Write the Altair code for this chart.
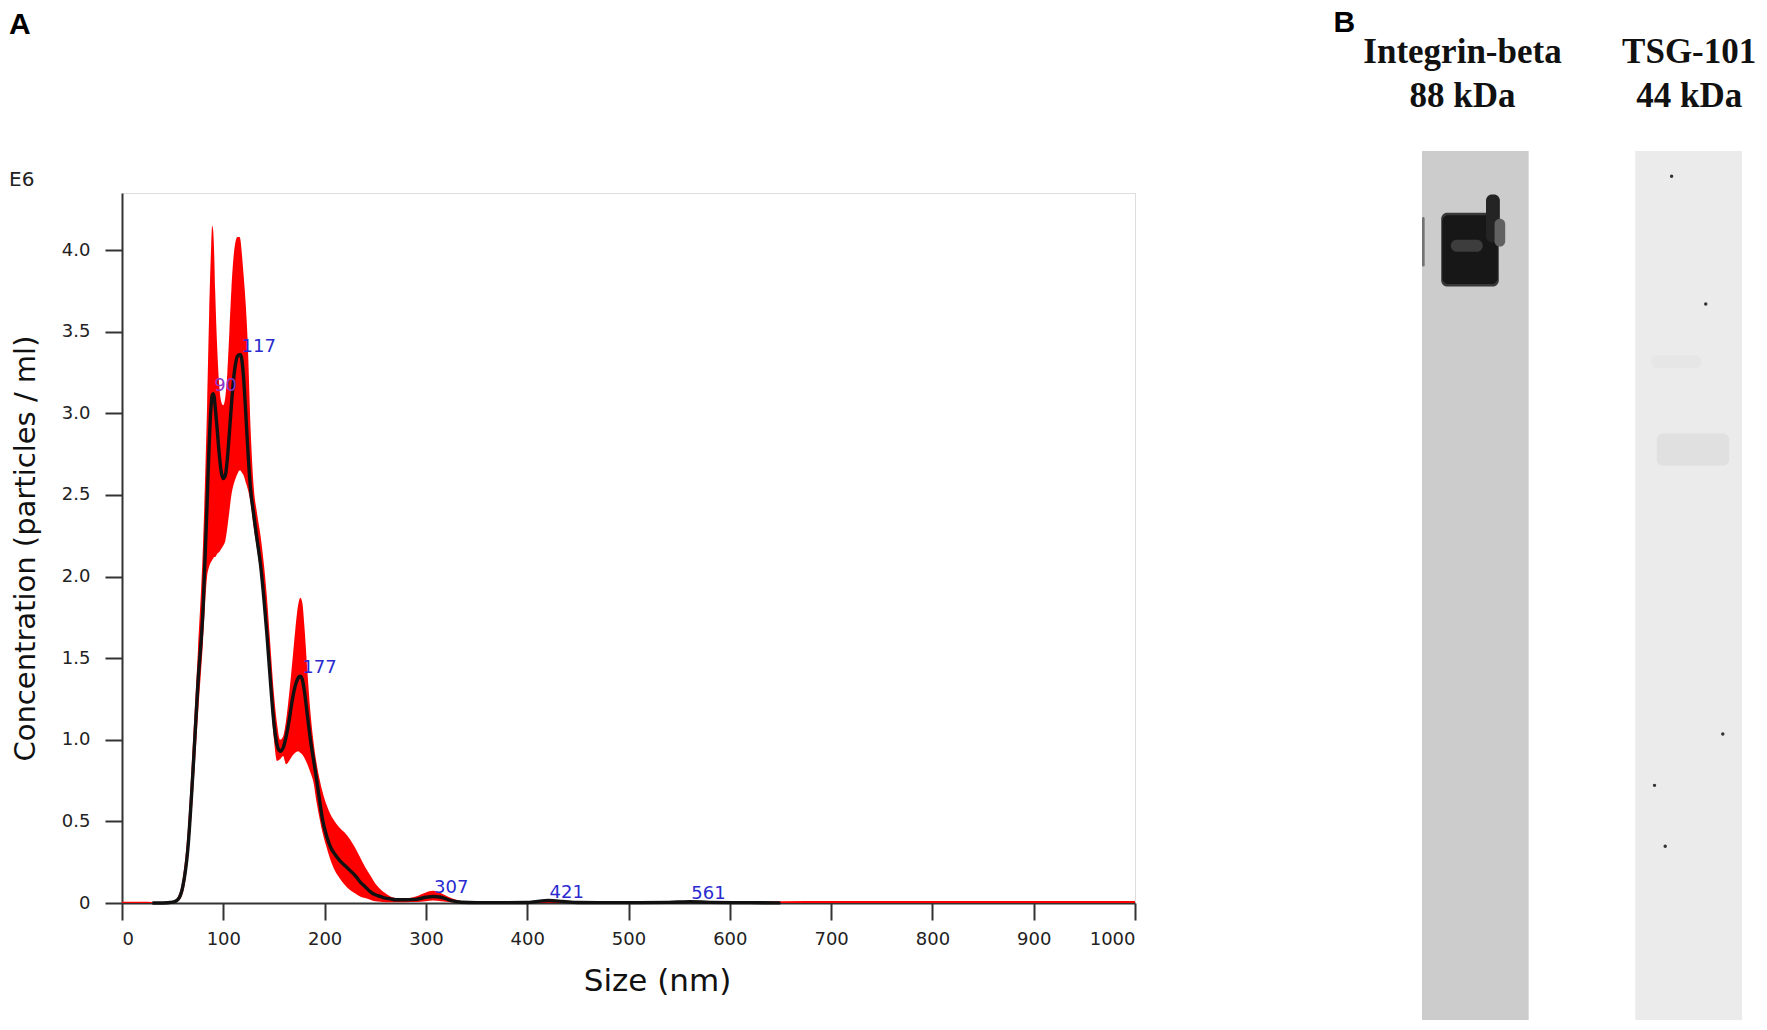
import altair as alt
import pandas as pd

# ---------------- Panel A: NTA size distribution ----------------
size_nm = [0, 10, 20, 30, 40, 50, 55, 60, 65, 70, 75, 80, 84, 86, 88, 89, 90, 91, 92, 94,
           96, 98, 100, 102, 104, 106, 108, 110, 112, 114, 116, 117, 118, 120, 122, 124, 127, 130, 133, 137,
           140, 143, 146, 150, 153, 156, 159, 162, 165, 168, 171, 174, 176, 178, 180, 183, 186, 189, 192, 195,
           198, 202, 206, 210, 215, 220, 225, 230, 235, 240, 245, 250, 255, 260, 265, 270, 280, 290, 300, 307,
           315, 325, 335, 350, 380, 400, 410, 421, 435, 450, 500, 540, 561, 580, 620, 650, 700, 800, 900, 1000]

mean_conc = [0, 0, 0, 0, 0, 0.005, 0.02, 0.1, 0.33, 0.8, 1.35, 1.8, 2.45, 2.8, 3.05, 3.11, 3.12, 3.1, 3.04, 2.9,
             2.75, 2.64, 2.6, 2.62, 2.72, 2.88, 3.05, 3.2, 3.3, 3.35, 3.36, 3.36, 3.34, 3.22, 3.02, 2.8, 2.53, 2.38, 2.24, 2.06,
             1.87, 1.65, 1.4, 1.1, 0.97, 0.93, 0.95, 1.02, 1.12, 1.24, 1.33, 1.38, 1.39, 1.37, 1.3, 1.15, 1.0, 0.88, 0.76, 0.63,
             0.51, 0.41, 0.34, 0.3, 0.26, 0.23, 0.2, 0.17, 0.13, 0.1, 0.07, 0.05, 0.04, 0.03, 0.025, 0.02, 0.02, 0.022, 0.035, 0.04,
             0.035, 0.015, 0.005, 0.002, 0.002, 0.003, 0.01, 0.015, 0.01, 0.003, 0.002, 0.004, 0.008, 0.004, 0.002, 0.001, 0, 0, 0, 0]

upper_conc = [0.008, 0.008, 0.008, 0.006, 0.004, 0.01, 0.035, 0.15, 0.45, 0.98, 1.55, 2.2, 3.05, 3.6, 4.02, 4.15, 4.12, 3.98, 3.75, 3.4,
              3.17, 3.07, 3.05, 3.1, 3.25, 3.5, 3.76, 3.95, 4.05, 4.08, 4.08, 4.06, 4.0, 3.85, 3.68, 3.45, 2.9, 2.55, 2.4, 2.24,
              2.08, 1.88, 1.62, 1.28, 1.1, 1.0, 1.02, 1.12, 1.28, 1.47, 1.67, 1.83, 1.87, 1.84, 1.7, 1.42, 1.17, 0.99, 0.86, 0.76,
              0.68, 0.6, 0.54, 0.5, 0.46, 0.43, 0.39, 0.34, 0.28, 0.22, 0.17, 0.12, 0.085, 0.06, 0.04, 0.03, 0.028, 0.04, 0.065, 0.075,
              0.06, 0.03, 0.012, 0.006, 0.008, 0.006, 0.014, 0.02, 0.015, 0.008, 0.006, 0.008, 0.012, 0.008, 0.008, 0.01, 0.012, 0.012, 0.012, 0.012]

lower_conc = [0, 0, 0, 0, 0, 0, 0.01, 0.06, 0.26, 0.66, 1.15, 1.6, 2.0, 2.06, 2.09, 2.1, 2.11, 2.12, 2.12, 2.14,
              2.15, 2.17, 2.19, 2.22, 2.3, 2.4, 2.5, 2.56, 2.6, 2.63, 2.65, 2.65, 2.64, 2.62, 2.58, 2.54, 2.45, 2.3, 2.18, 2.0,
              1.8, 1.58, 1.33, 1.0, 0.87, 0.88, 0.9, 0.85, 0.87, 0.9, 0.92, 0.93, 0.92, 0.91, 0.89, 0.85, 0.8, 0.74, 0.62, 0.52,
              0.43, 0.34, 0.26, 0.2, 0.15, 0.11, 0.08, 0.06, 0.04, 0.03, 0.02, 0.01, 0.008, 0.005, 0.004, 0.004, 0.005, 0.006, 0.01, 0.015,
              0.01, 0.004, 0.002, 0, 0, 0, 0, 0, 0, 0, 0, 0, 0, 0, 0, 0, 0, 0, 0, 0]

peak_sizes = [90, 117, 177, 307, 421, 561]
peak_conc = [3.12, 3.36, 1.39, 0.04, 0.015, 0.008]

x_ticks = [0, 100, 200, 300, 400, 500, 600, 700, 800, 900, 1000]
y_ticks = [0, 0.5, 1.0, 1.5, 2.0, 2.5, 3.0, 3.5, 4.0]

# ---------------- Panel B: western blot lanes ----------------
lane_names = ["Integrin-beta", "TSG-101"]
lane_kda = ["88 kDa", "44 kDa"]
lane_background = [0.20, 0.08]          # relative darkness of membrane
lane_label_pos = [0.375, 2.5]           # where each lane heading is centred (lane units)

# dark / faint patches: lane, left/right (fraction of lane width), top/bottom (% of lane length), darkness
patch_lane = [0, 0, 0, 0, 0, 0, 1, 1]
patch_left = [0.18, 0.19, 0.60, 0.68, 0.27, 0.0, 0.15, 0.20]
patch_right = [0.72, 0.71, 0.73, 0.78, 0.57, 0.025, 0.62, 0.88]
patch_top = [7.1, 7.4, 5.0, 7.8, 10.2, 7.6, 23.5, 32.5]
patch_bottom = [15.6, 15.3, 10.5, 11.0, 11.6, 13.3, 25.0, 36.2]
patch_dark = [0.78, 0.91, 0.86, 0.62, 0.76, 0.55, 0.10, 0.12]

spot_lane = [1, 1, 1, 1, 1]
spot_x = [0.34, 0.66, 0.82, 0.18, 0.28]
spot_y = [2.9, 17.6, 67.1, 73.0, 80.0]

assert len(size_nm) == len(mean_conc) == len(upper_conc) == len(lower_conc)

curve = pd.DataFrame({"size": size_nm, "mean": mean_conc, "upper": upper_conc, "lower": lower_conc})
peaks = pd.DataFrame({"size": peak_sizes, "conc": peak_conc, "label": [str(p) for p in peak_sizes]})
lanes_df = pd.DataFrame({"lane": [0, 1], "name": lane_names, "kda": lane_kda, "dark": lane_background})
patch_df = pd.DataFrame({"lane": patch_lane, "left": patch_left, "right": patch_right,
                         "top": patch_top, "bottom": patch_bottom, "dark": patch_dark})
spot_df = pd.DataFrame({"lane": spot_lane, "sx": spot_x, "sy": spot_y})

FONT = "DejaVu Sans"

xs = alt.Scale(domain=[0, 1000], nice=False, zero=False)
ys = alt.Scale(domain=[0, 4.35], nice=False)

x_axis = alt.Axis(values=x_ticks, format="d", title="Size (nm)", grid=False,
                  domainColor="#333333", domainWidth=2, tickColor="#333333", tickWidth=2, tickSize=17,
                  labelFont=FONT, labelFontSize=18, labelColor="#222222", labelPadding=10,
                  titleFont=FONT, titleFontSize=31, titleFontWeight="normal", titleColor="#111111",
                  titleX=535, titleY=87, titleAlign="center", titleBaseline="alphabetic")
y_axis = alt.Axis(values=y_ticks, labelExpr="datum.value == 0 ? '0' : format(datum.value, '.1f')",
                  title="Concentration (particles / ml)", grid=False,
                  domainColor="#333333", domainWidth=2, tickColor="#333333", tickWidth=2, tickSize=17,
                  labelFont=FONT, labelFontSize=18, labelColor="#222222", labelPadding=15,
                  titleFont=FONT, titleFontSize=29, titleFontWeight="normal", titleColor="#111111",
                  titleX=-97, titleY=355, titleAngle=270, titleAlign="center", titleBaseline="middle")

band = alt.Chart(curve).mark_area(color="#ff0000", interpolate="monotone").encode(
    x=alt.X("size:Q", scale=xs, axis=x_axis),
    y=alt.Y("upper:Q", scale=ys, axis=y_axis),
    y2="lower:Q",
)
mean_line = alt.Chart(curve).transform_filter(
    "datum.size >= 30 && datum.size <= 650"
).mark_line(color="#111111", strokeWidth=3.4, interpolate="monotone").encode(
    x="size:Q", y="mean:Q"
)
peak_text = alt.Chart(peaks).mark_text(align="left", baseline="alphabetic", dx=1, dy=-3,
                                       font=FONT, fontSize=18).encode(
    x="size:Q", y="conc:Q", text="label:N",
    color=alt.condition("datum.size == 90", alt.value("#8a35c8"), alt.value("#2a2ad0")),
)
panel_a = alt.layer(band, mean_line, peak_text)

# Panel B scales: lane units horizontally, % of lane length vertically
bx = alt.Scale(domain=[0, 3], range=[1300, 1620], nice=False, zero=False)
by = alt.Scale(domain=[0, 100], range=[-42, 827], nice=False, zero=False)
gray = alt.Scale(domain=[0, 1], range=["#ffffff", "#000000"], interpolate="rgb")

label_expr = "datum.value < 1.5 ? ['%s', '%s'] : ['%s', '%s']" % (lane_names[0], lane_kda[0], lane_names[1], lane_kda[1])
b_axis = alt.Axis(orient="top", values=lane_label_pos, labelExpr=label_expr, domain=False, ticks=False, grid=False,
                  labelFont="Liberation Serif", labelFontWeight="bold", labelFontSize=35, labelColor="#111111",
                  labelLineHeight=44, labelPadding=124, labelBaseline="bottom", labelAngle=0,
                  labelFlush=False, labelOverlap=False, labelLimit=500,
                  title="B", titleFont="Liberation Sans", titleFontWeight="bold", titleFontSize=30,
                  titleColor="#000000", titleX=1211, titleY=-162, titleAlign="left",
                  titleBaseline="alphabetic", titleAngle=0, titleLimit=100)

lanes = alt.Chart(lanes_df).transform_calculate(
    x0="datum.lane * 2", x1="datum.lane * 2 + 1", y0="0", y1="100"
).mark_rect().encode(
    x=alt.X("x0:Q", scale=bx, axis=b_axis), x2="x1:Q",
    y=alt.Y("y0:Q", scale=by, axis=None), y2="y1:Q",
    color=alt.Color("dark:Q", scale=gray, legend=None),
)
patches = alt.Chart(patch_df).transform_calculate(
    x0="datum.lane * 2 + datum.left", x1="datum.lane * 2 + datum.right"
).mark_rect(cornerRadius=6).encode(
    x="x0:Q", x2="x1:Q", y="top:Q", y2="bottom:Q",
    color=alt.Color("dark:Q", scale=gray, legend=None),
)
spots = alt.Chart(spot_df).transform_calculate(
    px="datum.lane * 2 + datum.sx"
).mark_circle(size=12, color="#333333", opacity=1).encode(
    x="px:Q", y="sy:Q"
)
panel_b = alt.layer(lanes, patches, spots)

chart = alt.layer(panel_a, panel_b).resolve_scale(
    x="independent", y="independent", color="independent"
).properties(
    width=1013, height=710,
    padding={"left": 114, "top": 185, "right": 624, "bottom": 119},
    autosize=alt.AutoSizeParams(type="none"),
    title=alt.TitleParams(text="A", subtitle="E6", anchor="start", frame="group", dx=-113, dy=187,
                          font="Liberation Sans", fontSize=30, fontWeight="bold", color="#000000",
                          subtitleFont=FONT, subtitleFontSize=20, subtitleColor="#222222",
                          subtitlePadding=130),
).configure_view(stroke=None).configure(background="white")

chart.save("out.html", embed_options={"renderer": "svg", "actions": False})
